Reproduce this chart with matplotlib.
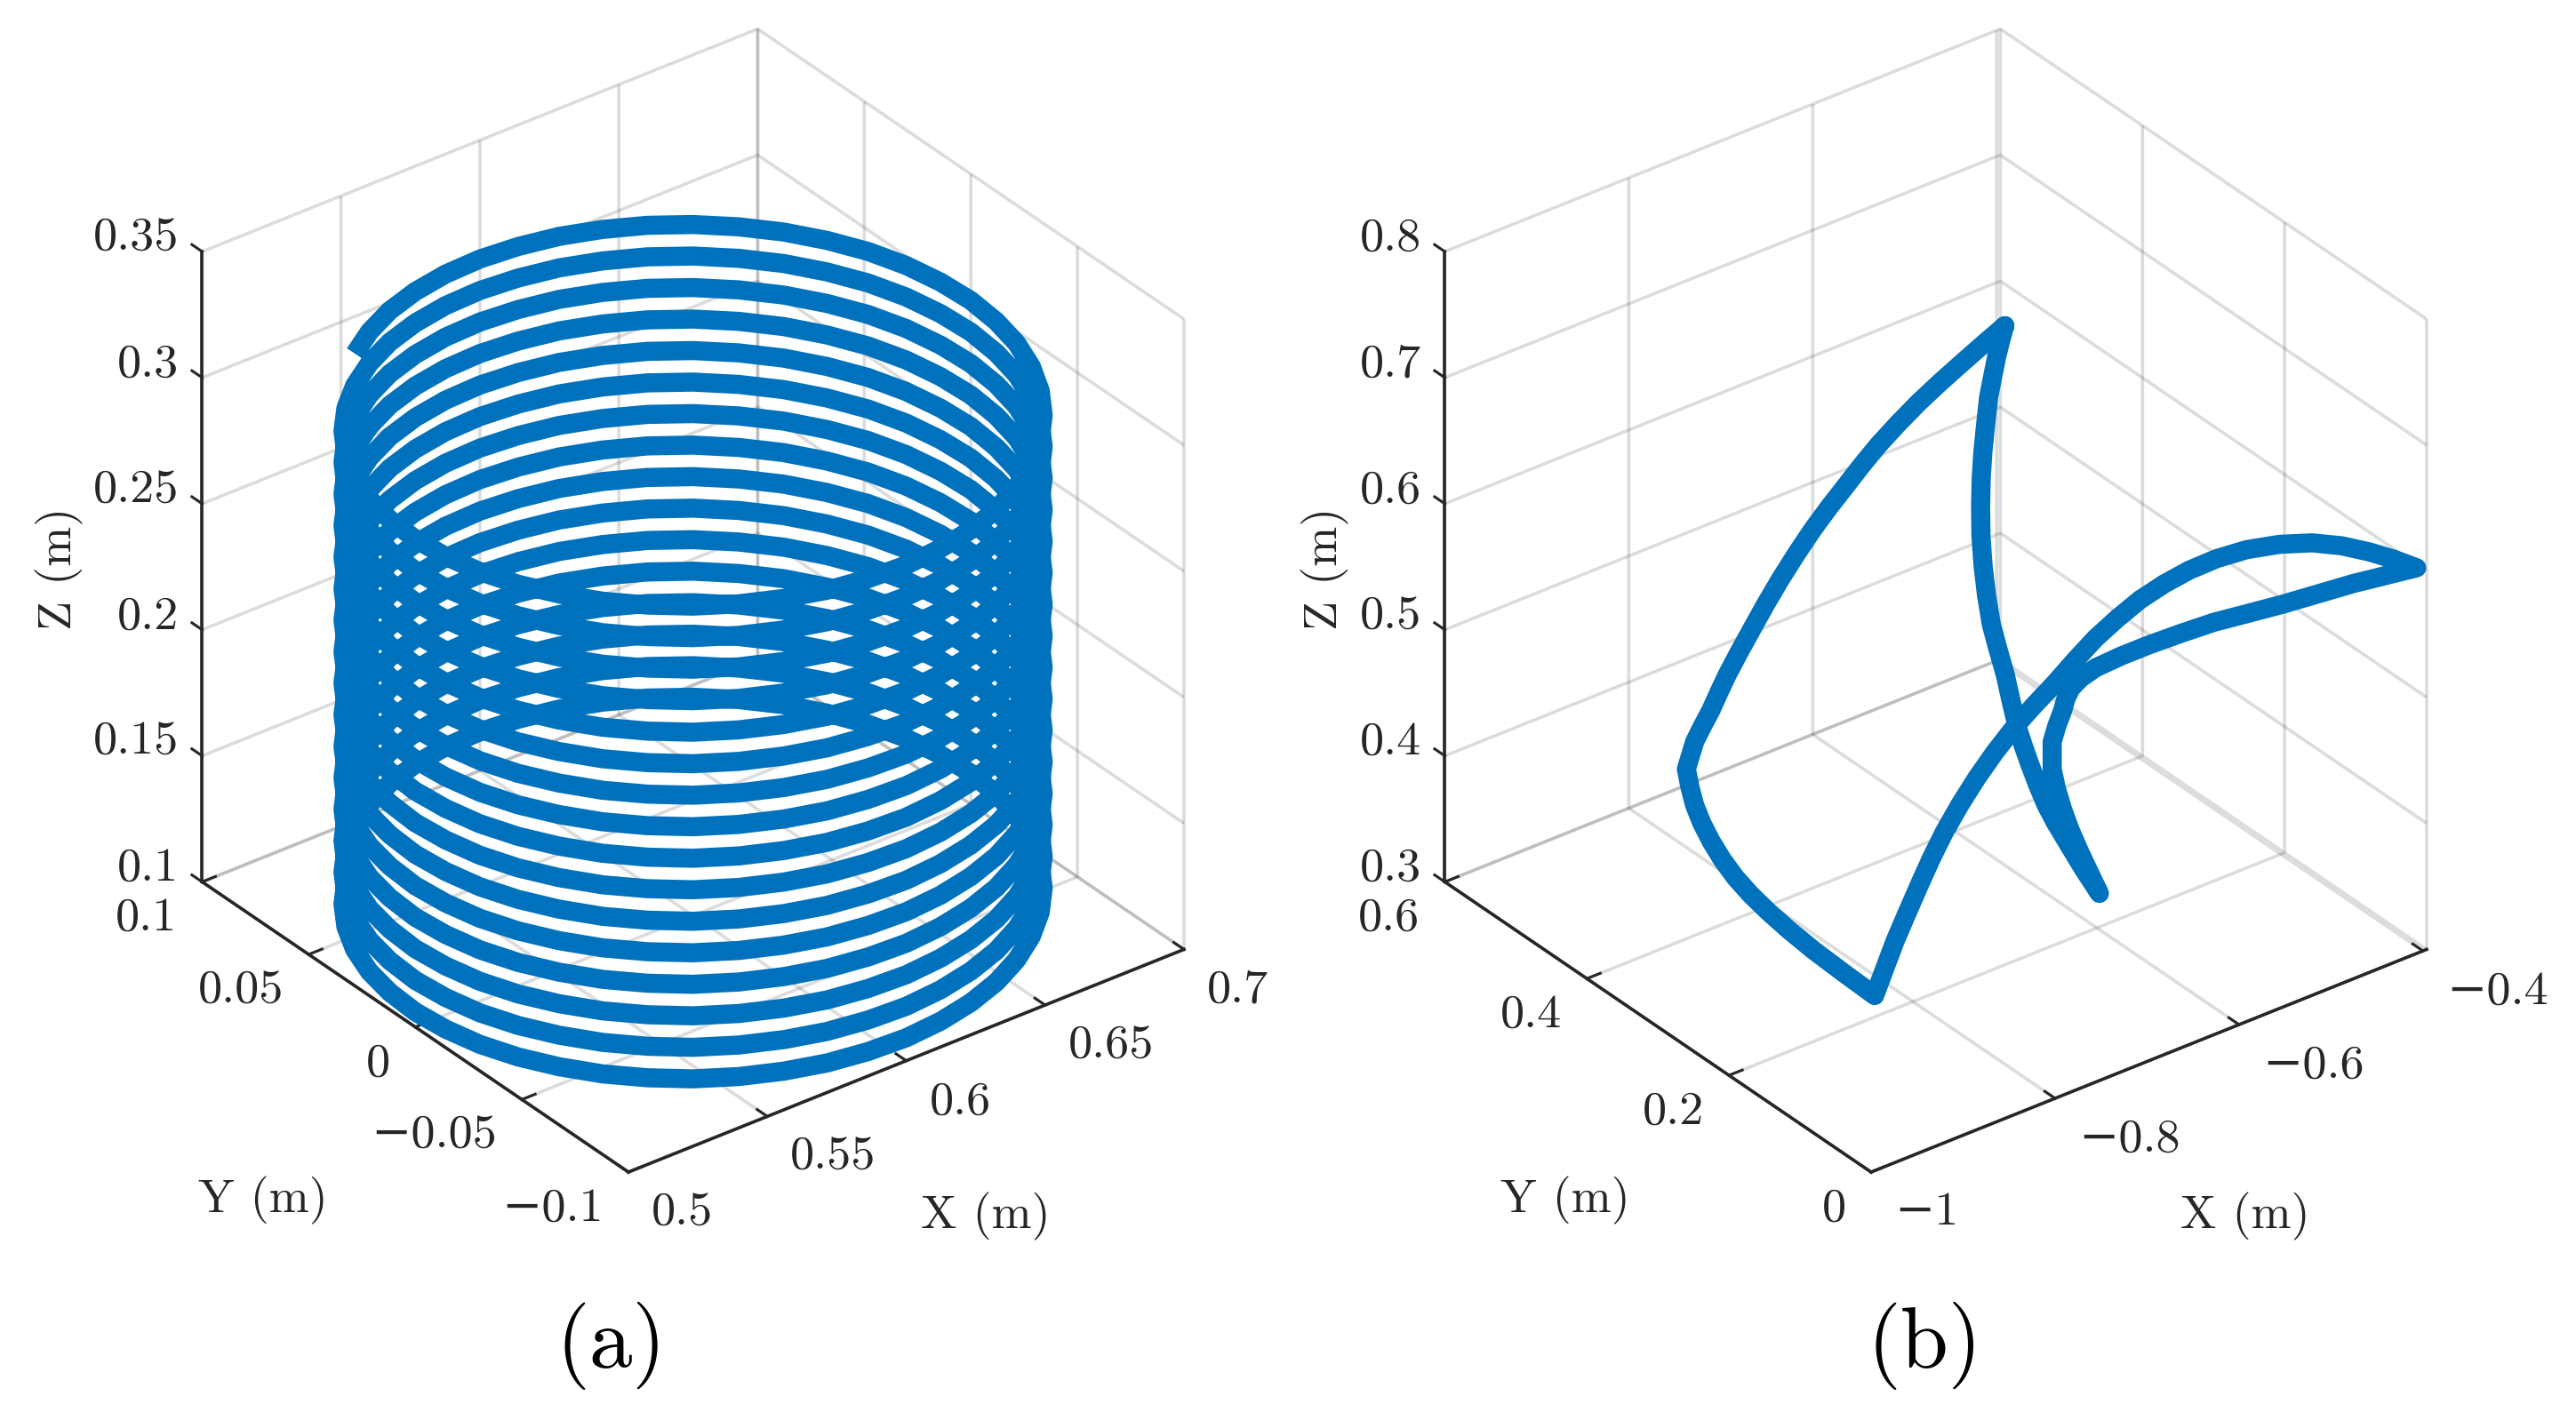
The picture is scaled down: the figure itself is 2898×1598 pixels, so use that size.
#!/usr/bin/env python3
"""Two 3D end effector paths, helix (a) and spherical loop (b)."""

import matplotlib
matplotlib.use("Agg")
import matplotlib.pyplot as plt
from mpl_toolkits.mplot3d import proj3d

plt.rcParams["font.family"] = ["cmr10", "DejaVu Serif"]
plt.rcParams["axes.formatter.use_mathtext"] = True

W, H = 2898, 1598
BLUE = "#0072BD"
DARK = "#262626"
GRID = (0.15, 0.15, 0.15, 0.16)

# one turn of the helix, repeated 16 times
turn_x = [0.5391, 0.5293, 0.5207, 0.5134, 0.5076, 0.5034, 0.5009, 0.5000, 0.5009, 0.5034, 0.5076, 0.5134,
          0.5207, 0.5293, 0.5391, 0.5500, 0.5617, 0.5741, 0.5869, 0.6000, 0.6131, 0.6259, 0.6383, 0.6500,
          0.6609, 0.6707, 0.6793, 0.6866, 0.6924, 0.6966, 0.6991, 0.7000, 0.6991, 0.6966, 0.6924, 0.6866,
          0.6793, 0.6707, 0.6609, 0.6500, 0.6383, 0.6259, 0.6131, 0.6000, 0.5869, 0.5741, 0.5617, 0.5500]
turn_y = [0.0793, 0.0707, 0.0609, 0.0500, 0.0383, 0.0259, 0.0131, 0.0000, -0.0131, -0.0259, -0.0383, -0.0500,
          -0.0609, -0.0707, -0.0793, -0.0866, -0.0924, -0.0966, -0.0991, -0.1000, -0.0991, -0.0966, -0.0924, -0.0866,
          -0.0793, -0.0707, -0.0609, -0.0500, -0.0383, -0.0259, -0.0131, 0.0000, 0.0131, 0.0259, 0.0383, 0.0500,
          0.0609, 0.0707, 0.0793, 0.0866, 0.0924, 0.0966, 0.0991, 0.1000, 0.0991, 0.0966, 0.0924, 0.0866]
helix_x = turn_x * 16 + turn_x[:1]
helix_y = turn_y * 16 + turn_y[:1]
helix_z = [
    0.1042, 0.1045, 0.1047, 0.1050, 0.1052, 0.1055, 0.1058, 0.1060, 0.1063, 0.1065, 0.1068, 0.1071, 0.1073, 0.1076, 0.1078, 0.1081, 0.1084, 0.1086, 0.1089, 0.1091, 0.1094, 0.1097, 0.1099, 0.1102,
    0.1105, 0.1107, 0.1110, 0.1112, 0.1115, 0.1118, 0.1120, 0.1123, 0.1125, 0.1128, 0.1131, 0.1133, 0.1136, 0.1138, 0.1141, 0.1144, 0.1146, 0.1149, 0.1151, 0.1154, 0.1157, 0.1159, 0.1162, 0.1164,
    0.1167, 0.1170, 0.1172, 0.1175, 0.1177, 0.1180, 0.1183, 0.1185, 0.1188, 0.1190, 0.1193, 0.1196, 0.1198, 0.1201, 0.1203, 0.1206, 0.1209, 0.1211, 0.1214, 0.1216, 0.1219, 0.1222, 0.1224, 0.1227,
    0.1230, 0.1232, 0.1235, 0.1237, 0.1240, 0.1243, 0.1245, 0.1248, 0.1250, 0.1253, 0.1256, 0.1258, 0.1261, 0.1263, 0.1266, 0.1269, 0.1271, 0.1274, 0.1276, 0.1279, 0.1282, 0.1284, 0.1287, 0.1289,
    0.1292, 0.1295, 0.1297, 0.1300, 0.1302, 0.1305, 0.1308, 0.1310, 0.1313, 0.1315, 0.1318, 0.1321, 0.1323, 0.1326, 0.1328, 0.1331, 0.1334, 0.1336, 0.1339, 0.1341, 0.1344, 0.1347, 0.1349, 0.1352,
    0.1355, 0.1357, 0.1360, 0.1362, 0.1365, 0.1368, 0.1370, 0.1373, 0.1375, 0.1378, 0.1381, 0.1383, 0.1386, 0.1388, 0.1391, 0.1394, 0.1396, 0.1399, 0.1401, 0.1404, 0.1407, 0.1409, 0.1412, 0.1414,
    0.1417, 0.1420, 0.1422, 0.1425, 0.1427, 0.1430, 0.1433, 0.1435, 0.1438, 0.1440, 0.1443, 0.1446, 0.1448, 0.1451, 0.1453, 0.1456, 0.1459, 0.1461, 0.1464, 0.1466, 0.1469, 0.1472, 0.1474, 0.1477,
    0.1480, 0.1482, 0.1485, 0.1487, 0.1490, 0.1493, 0.1495, 0.1498, 0.1500, 0.1503, 0.1506, 0.1508, 0.1511, 0.1513, 0.1516, 0.1519, 0.1521, 0.1524, 0.1526, 0.1529, 0.1532, 0.1534, 0.1537, 0.1539,
    0.1542, 0.1545, 0.1547, 0.1550, 0.1552, 0.1555, 0.1558, 0.1560, 0.1563, 0.1565, 0.1568, 0.1571, 0.1573, 0.1576, 0.1578, 0.1581, 0.1584, 0.1586, 0.1589, 0.1591, 0.1594, 0.1597, 0.1599, 0.1602,
    0.1605, 0.1607, 0.1610, 0.1612, 0.1615, 0.1618, 0.1620, 0.1623, 0.1625, 0.1628, 0.1631, 0.1633, 0.1636, 0.1638, 0.1641, 0.1644, 0.1646, 0.1649, 0.1651, 0.1654, 0.1657, 0.1659, 0.1662, 0.1664,
    0.1667, 0.1670, 0.1672, 0.1675, 0.1677, 0.1680, 0.1683, 0.1685, 0.1688, 0.1690, 0.1693, 0.1696, 0.1698, 0.1701, 0.1703, 0.1706, 0.1709, 0.1711, 0.1714, 0.1716, 0.1719, 0.1722, 0.1724, 0.1727,
    0.1730, 0.1732, 0.1735, 0.1737, 0.1740, 0.1743, 0.1745, 0.1748, 0.1750, 0.1753, 0.1756, 0.1758, 0.1761, 0.1763, 0.1766, 0.1769, 0.1771, 0.1774, 0.1776, 0.1779, 0.1782, 0.1784, 0.1787, 0.1789,
    0.1792, 0.1795, 0.1797, 0.1800, 0.1802, 0.1805, 0.1808, 0.1810, 0.1813, 0.1815, 0.1818, 0.1821, 0.1823, 0.1826, 0.1828, 0.1831, 0.1834, 0.1836, 0.1839, 0.1841, 0.1844, 0.1847, 0.1849, 0.1852,
    0.1855, 0.1857, 0.1860, 0.1862, 0.1865, 0.1868, 0.1870, 0.1873, 0.1875, 0.1878, 0.1881, 0.1883, 0.1886, 0.1888, 0.1891, 0.1894, 0.1896, 0.1899, 0.1901, 0.1904, 0.1907, 0.1909, 0.1912, 0.1914,
    0.1917, 0.1920, 0.1922, 0.1925, 0.1927, 0.1930, 0.1933, 0.1935, 0.1938, 0.1940, 0.1943, 0.1946, 0.1948, 0.1951, 0.1953, 0.1956, 0.1959, 0.1961, 0.1964, 0.1966, 0.1969, 0.1972, 0.1974, 0.1977,
    0.1980, 0.1982, 0.1985, 0.1987, 0.1990, 0.1993, 0.1995, 0.1998, 0.2000, 0.2003, 0.2006, 0.2008, 0.2011, 0.2013, 0.2016, 0.2019, 0.2021, 0.2024, 0.2026, 0.2029, 0.2032, 0.2034, 0.2037, 0.2039,
    0.2042, 0.2045, 0.2047, 0.2050, 0.2052, 0.2055, 0.2058, 0.2060, 0.2063, 0.2065, 0.2068, 0.2071, 0.2073, 0.2076, 0.2078, 0.2081, 0.2084, 0.2086, 0.2089, 0.2091, 0.2094, 0.2097, 0.2099, 0.2102,
    0.2105, 0.2107, 0.2110, 0.2112, 0.2115, 0.2118, 0.2120, 0.2123, 0.2125, 0.2128, 0.2131, 0.2133, 0.2136, 0.2138, 0.2141, 0.2144, 0.2146, 0.2149, 0.2151, 0.2154, 0.2157, 0.2159, 0.2162, 0.2164,
    0.2167, 0.2170, 0.2172, 0.2175, 0.2177, 0.2180, 0.2183, 0.2185, 0.2188, 0.2190, 0.2193, 0.2196, 0.2198, 0.2201, 0.2203, 0.2206, 0.2209, 0.2211, 0.2214, 0.2216, 0.2219, 0.2222, 0.2224, 0.2227,
    0.2230, 0.2232, 0.2235, 0.2237, 0.2240, 0.2243, 0.2245, 0.2248, 0.2250, 0.2253, 0.2256, 0.2258, 0.2261, 0.2263, 0.2266, 0.2269, 0.2271, 0.2274, 0.2276, 0.2279, 0.2282, 0.2284, 0.2287, 0.2289,
    0.2292, 0.2295, 0.2297, 0.2300, 0.2302, 0.2305, 0.2308, 0.2310, 0.2313, 0.2315, 0.2318, 0.2321, 0.2323, 0.2326, 0.2328, 0.2331, 0.2334, 0.2336, 0.2339, 0.2341, 0.2344, 0.2347, 0.2349, 0.2352,
    0.2355, 0.2357, 0.2360, 0.2362, 0.2365, 0.2368, 0.2370, 0.2373, 0.2375, 0.2378, 0.2381, 0.2383, 0.2386, 0.2388, 0.2391, 0.2394, 0.2396, 0.2399, 0.2401, 0.2404, 0.2407, 0.2409, 0.2412, 0.2414,
    0.2417, 0.2420, 0.2422, 0.2425, 0.2427, 0.2430, 0.2433, 0.2435, 0.2438, 0.2440, 0.2443, 0.2446, 0.2448, 0.2451, 0.2453, 0.2456, 0.2459, 0.2461, 0.2464, 0.2466, 0.2469, 0.2472, 0.2474, 0.2477,
    0.2480, 0.2482, 0.2485, 0.2487, 0.2490, 0.2493, 0.2495, 0.2498, 0.2500, 0.2503, 0.2506, 0.2508, 0.2511, 0.2513, 0.2516, 0.2519, 0.2521, 0.2524, 0.2526, 0.2529, 0.2532, 0.2534, 0.2537, 0.2539,
    0.2542, 0.2545, 0.2547, 0.2550, 0.2552, 0.2555, 0.2558, 0.2560, 0.2563, 0.2565, 0.2568, 0.2571, 0.2573, 0.2576, 0.2578, 0.2581, 0.2584, 0.2586, 0.2589, 0.2591, 0.2594, 0.2597, 0.2599, 0.2602,
    0.2605, 0.2607, 0.2610, 0.2612, 0.2615, 0.2618, 0.2620, 0.2623, 0.2625, 0.2628, 0.2631, 0.2633, 0.2636, 0.2638, 0.2641, 0.2644, 0.2646, 0.2649, 0.2651, 0.2654, 0.2657, 0.2659, 0.2662, 0.2664,
    0.2667, 0.2670, 0.2672, 0.2675, 0.2677, 0.2680, 0.2683, 0.2685, 0.2688, 0.2690, 0.2693, 0.2696, 0.2698, 0.2701, 0.2703, 0.2706, 0.2709, 0.2711, 0.2714, 0.2716, 0.2719, 0.2722, 0.2724, 0.2727,
    0.2730, 0.2732, 0.2735, 0.2737, 0.2740, 0.2743, 0.2745, 0.2748, 0.2750, 0.2753, 0.2756, 0.2758, 0.2761, 0.2763, 0.2766, 0.2769, 0.2771, 0.2774, 0.2776, 0.2779, 0.2782, 0.2784, 0.2787, 0.2789,
    0.2792, 0.2795, 0.2797, 0.2800, 0.2802, 0.2805, 0.2808, 0.2810, 0.2813, 0.2815, 0.2818, 0.2821, 0.2823, 0.2826, 0.2828, 0.2831, 0.2834, 0.2836, 0.2839, 0.2841, 0.2844, 0.2847, 0.2849, 0.2852,
    0.2855, 0.2857, 0.2860, 0.2862, 0.2865, 0.2868, 0.2870, 0.2873, 0.2875, 0.2878, 0.2881, 0.2883, 0.2886, 0.2888, 0.2891, 0.2894, 0.2896, 0.2899, 0.2901, 0.2904, 0.2907, 0.2909, 0.2912, 0.2914,
    0.2917, 0.2920, 0.2922, 0.2925, 0.2927, 0.2930, 0.2933, 0.2935, 0.2938, 0.2940, 0.2943, 0.2946, 0.2948, 0.2951, 0.2953, 0.2956, 0.2959, 0.2961, 0.2964, 0.2966, 0.2969, 0.2972, 0.2974, 0.2977,
    0.2980, 0.2982, 0.2985, 0.2987, 0.2990, 0.2993, 0.2995, 0.2998, 0.3000, 0.3003, 0.3006, 0.3008, 0.3011, 0.3013, 0.3016, 0.3019, 0.3021, 0.3024, 0.3026, 0.3029, 0.3032, 0.3034, 0.3037, 0.3039,
    0.3042,
]

loop_x = [-0.6229, -0.6446, -0.6673, -0.6917, -0.7161, -0.7391, -0.7605, -0.7788, -0.7960, -0.8138, -0.8315, -0.8495,
          -0.8670, -0.8831, -0.8980, -0.9121, -0.9246, -0.9341, -0.9424, -0.9518, -0.9601, -0.9646, -0.9691,
          -0.9722, -0.9740, -0.9731, -0.9700, -0.9648, -0.9573, -0.9476, -0.9356, -0.9221, -0.9052, -0.8825, -0.8571,
          -0.8507, -0.8442, -0.8355, -0.8268, -0.8186, -0.8093, -0.7970, -0.7831, -0.7683, -0.7524, -0.7351, -0.7172,
          -0.6998, -0.6819, -0.6624, -0.6424, -0.6233, -0.6030, -0.5800, -0.5547, -0.5261, -0.4975, -0.4724, -0.4492,
          -0.4280, -0.4069,
          -0.4370, -0.4670, -0.5001, -0.5332, -0.5663, -0.5994, -0.6303, -0.6612, -0.6854, -0.7096, -0.7211, -0.7271,
          -0.7302, -0.7313, -0.7330, -0.7336, -0.7313, -0.7290, -0.7222, -0.7129, -0.7014, -0.6882, -0.6737, -0.6591,
          -0.6728, -0.6854, -0.6930, -0.6984, -0.7030, -0.7069, -0.7092, -0.7110, -0.7110, -0.7105, -0.7113, -0.7117,
          -0.7100, -0.7068, -0.7021, -0.6956, -0.6880, -0.6792, -0.6693, -0.6591, -0.6500, -0.6410, -0.6320, -0.6229]
loop_y = [0.3, 0.3, 0.3, 0.3, 0.3, 0.3, 0.3, 0.3, 0.3, 0.3, 0.3, 0.3,
          0.3, 0.3, 0.3, 0.3, 0.3, 0.3, 0.3, 0.3, 0.3, 0.3, 0.3,
          0.291, 0.282, 0.273, 0.264, 0.255, 0.246, 0.237, 0.228, 0.216, 0.204, 0.192, 0.18,
          0.174, 0.168, 0.162, 0.156, 0.15, 0.144, 0.138, 0.132, 0.126, 0.12, 0.114, 0.108,
          0.102, 0.096, 0.09, 0.084, 0.075, 0.066, 0.057, 0.048, 0.039, 0.03, 0.021, 0.012,
          0.006, 0.0,
          0.006, 0.012, 0.018, 0.024, 0.03, 0.036, 0.042, 0.048, 0.054, 0.06, 0.066, 0.072,
          0.075, 0.078, 0.084, 0.09, 0.093, 0.096, 0.099, 0.102, 0.1065, 0.111, 0.1155, 0.12,
          0.126, 0.132, 0.138, 0.144, 0.15, 0.156, 0.162, 0.168, 0.177, 0.186, 0.195, 0.204,
          0.213, 0.222, 0.231, 0.24, 0.249, 0.258, 0.267, 0.276, 0.282, 0.288, 0.294, 0.3]
loop_z = [0.7460, 0.7388, 0.7309, 0.7222, 0.7127, 0.7023, 0.6915, 0.6806, 0.6694, 0.6580, 0.6456, 0.6313,
          0.6162, 0.6009, 0.5857, 0.5711, 0.5575, 0.5455, 0.5345, 0.5243, 0.5146, 0.5051, 0.4956,
          0.4856, 0.4752, 0.4641, 0.4523, 0.4397, 0.4266, 0.4137, 0.4002, 0.3861, 0.3701, 0.3505, 0.3292,
          0.3512, 0.3732, 0.3957, 0.4177, 0.4384, 0.4585, 0.4789, 0.4986, 0.5168, 0.5337, 0.5488, 0.5633,
          0.5788, 0.5936, 0.6062, 0.6174, 0.6277, 0.6361, 0.6420, 0.6451, 0.6444, 0.6407, 0.6345, 0.6263,
          0.6168, 0.6059,
          0.6061, 0.6063, 0.6056, 0.6049, 0.6050, 0.6052, 0.6032, 0.6006, 0.5970, 0.5921, 0.5849, 0.5764,
          0.5681, 0.5581, 0.5440, 0.5290, 0.5163, 0.5036, 0.4851, 0.4643, 0.4432, 0.4213, 0.3983, 0.3753,
          0.3975, 0.4197, 0.4345, 0.4476, 0.4627, 0.4778, 0.4905, 0.5032, 0.5209, 0.5386, 0.5552, 0.5718,
          0.5910, 0.6102, 0.6286, 0.6469, 0.6630, 0.6784, 0.6936, 0.7088, 0.7205, 0.7314, 0.7393, 0.7460]

a_xticks = [0.5, 0.55, 0.6, 0.65, 0.7]
a_xlabels = ["0.5", "0.55", "0.6", "0.65", "0.7"]
a_yticks = [-0.1, -0.05, 0, 0.05, 0.1]
a_ylabels = ["\u22120.1", "\u22120.05", "0", "0.05", "0.1"]
a_zticks = [0.1, 0.15, 0.2, 0.25, 0.3, 0.35]
a_zlabels = ["0.1", "0.15", "0.2", "0.25", "0.3", "0.35"]

b_xticks = [-1, -0.8, -0.6, -0.4]
b_xlabels = ["\u22121", "\u22120.8", "\u22120.6", "\u22120.4"]
b_yticks = [0, 0.2, 0.4, 0.6]
b_ylabels = ["0", "0.2", "0.4", "0.6"]
b_zticks = [0.3, 0.4, 0.5, 0.6, 0.7, 0.8]
b_zlabels = ["0.3", "0.4", "0.5", "0.6", "0.7", "0.8"]


def put(fig, px, py, s, **kw):
    # px, py in image pixels, y down
    return fig.text(px / W, 1 - py / H, s, color=DARK, **kw)


def setup(fig, corner, lims, xt, xl, yt, yl, zt, zl):
    ax = fig.add_subplot(projection="3d")
    ax.set_proj_type("ortho")
    ax.view_init(elev=31.5, azim=-127.5)
    ax.set_box_aspect((786, 786, 830))
    ax.set_xlim(*lims[0])
    ax.set_ylim(*lims[1])
    ax.set_zlim(*lims[2])
    ax.patch.set_alpha(0)

    # place the box so its front bottom corner lands on the wanted pixel
    M = ax.get_proj()
    x0, y0, _ = proj3d.proj_transform(lims[0][0], lims[1][0], lims[2][0], M)
    x1, _, _ = proj3d.proj_transform(lims[0][1], lims[1][0], lims[2][0], M)
    scale = 625 / (x1 - x0)
    vl = ax.viewLim
    size = scale * vl.width
    left = corner[0] - (x0 - vl.x0) * scale
    bottom = (H - corner[1]) - (y0 - vl.y0) * scale
    ax.set_position([left / W, bottom / H, size / W, size / H])

    ax.set_xticks(xt, [""] * len(xt))
    ax.set_yticks(yt, [""] * len(yt))
    ax.set_zticks(zt, [""] * len(zt))
    for axis in (ax.xaxis, ax.yaxis, ax.zaxis):
        axis.set_pane_color((1, 1, 1, 0))
        axis.pane.set_edgecolor("none")
        axis.line.set_color(DARK)
        axis.line.set_linewidth(2.6)
        axis._axinfo["grid"].update(color=GRID, linewidth=2.6)
        axis._axinfo["tick"].update(inward_factor=0.0, outward_factor=0.3, linewidth={True: 2.2, False: 1},
                                    color=DARK)
    ax.tick_params(colors=DARK)
    ax.zaxis.set_ticks_position("upper")
    # z ticks point along +y as in the reference
    ax.zaxis._get_tickdir = lambda position: 1

    # tick labels sit at fixed pixel offsets from the projected tick
    def label(tick, s, dx, dy, ha, pos):
        a, b, _ = proj3d.proj_transform(*pos(tick), M)
        px, py = ax.transData.transform((a, b))
        put(fig, px + dx, H - py + dy, s, fontsize=39, ha=ha, va="center")

    for t, s in zip(xt, xl):
        label(t, s, 26, 46, "left", lambda v: (v, lims[1][0], lims[2][0]))
    for t, s in zip(yt, yl):
        label(t, s, -28, 41, "right", lambda v: (lims[0][0], v, lims[2][0]))
    for t, s in zip(zt, zl):
        label(t, s, -26, -15, "right", lambda v: (lims[0][0], lims[1][1], v))
    return ax


def main():
    fig = plt.figure(figsize=(W / 100, H / 100), dpi=100, facecolor="white")

    ax_a = setup(fig, (707, 1319), [(0.5, 0.7), (-0.1, 0.1), (0.1, 0.35)],
                 a_xticks, a_xlabels, a_yticks, a_ylabels, a_zticks, a_zlabels)
    ax_a.plot(helix_x, helix_y, helix_z, color=BLUE, lw=15.5, solid_capstyle="butt", solid_joinstyle="round")

    ax_b = setup(fig, (2105, 1319), [(-1, -0.396), (0, 0.6), (0.3, 0.8)],
                 b_xticks, b_xlabels, b_yticks, b_ylabels, b_zticks, b_zlabels)
    ax_b.plot(loop_x, loop_y, loop_z, color=BLUE, lw=15.5, solid_capstyle="round", solid_joinstyle="round")

    put(fig, 1109, 1369, "X (m)", fontsize=39, ha="center", va="center")
    put(fig, 296, 1351, "Y (m)", fontsize=39, ha="center", va="center")
    put(fig, 67, 640, "Z (m)", fontsize=39, ha="center", va="center", rotation=90)
    put(fig, 2526, 1369, "X (m)", fontsize=39, ha="center", va="center")
    put(fig, 1761, 1351, "Y (m)", fontsize=39, ha="center", va="center")
    put(fig, 1491, 640, "Z (m)", fontsize=39, ha="center", va="center", rotation=90)

    fig.text(688 / W, 1 - 1514 / H, "(a)", fontsize=70, color="black", ha="center", va="center")
    fig.text(2165 / W, 1 - 1514 / H, "(b)", fontsize=70, color="black", ha="center", va="center")

    fig.savefig("out.png", dpi=100, facecolor="white")


if __name__ == "__main__":
    main()
